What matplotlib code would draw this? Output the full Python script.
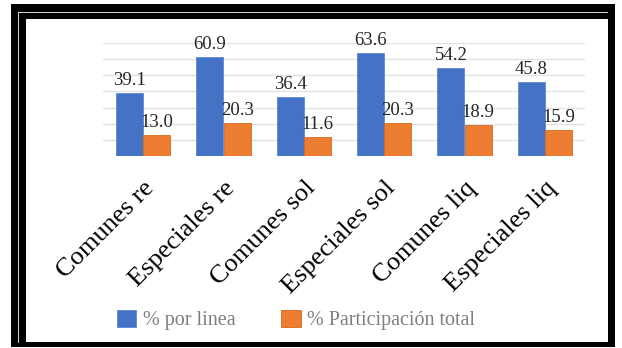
import matplotlib
matplotlib.use("Agg")
import matplotlib.pyplot as plt
import numpy as np
from matplotlib.patches import Rectangle

categories = ["Comunes re", "Especiales re", "Comunes sol", "Especiales sol", "Comunes liq", "Especiales liq"]
por_linea = [39.1, 60.9, 36.4, 63.6, 54.2, 45.8]
participacion = [13.0, 20.3, 11.6, 20.3, 18.9, 15.9]
series_names = ["% por linea", "% Participación total"]

plt.rcParams['font.family'] = ['Liberation Serif', 'DejaVu Serif']

W, H = 622, 348
fig = plt.figure(figsize=(W / 100, H / 100), dpi=100)

def px(x0, y0, x1, y1, **kw):
    return Rectangle((x0 / W, 1 - y1 / H), (x1 - x0) / W, (y1 - y0) / H,
                     transform=fig.transFigure, **kw)

# frame
fig.patches.append(px(11, 4, 615, 347, facecolor='black', edgecolor='none', zorder=-3))
fig.patches.append(px(18.3, 12.3, 608, 342.7, facecolor='#d0d0d0', edgecolor='none', zorder=-2.5))
fig.patches.append(px(19.3, 13.3, 608, 342.7, facecolor='black', edgecolor='none', zorder=-2))
fig.patches.append(px(25.5, 18.8, 607.7, 342.0, facecolor='white', edgecolor='none', zorder=-1))

ax = fig.add_axes([103 / W, 1 - 156.1 / H, 482 / W, 113.4 / H])
ax.set_zorder(2)
ax.set_facecolor('none')
x = np.arange(len(categories))
w = 0.34
b1 = ax.bar(x - w / 2, por_linea, w, color='#4472C4', edgecolor='#5b87d6', linewidth=0.6, zorder=3, label=series_names[0])
b2 = ax.bar(x + w / 2, participacion, w, color='#ED7D31', edgecolor='#d2691e', linewidth=0.6, zorder=3, label=series_names[1])

for bars, vals in ((b1, por_linea), (b2, participacion)):
    for r, v in zip(bars, vals):
        ax.annotate(f"{v:.1f}", (r.get_x() + r.get_width() / 2, v), xytext=(0, 3),
                    textcoords='offset points', ha='center', va='bottom',
                    fontsize=13.5, color='#262626', zorder=4, annotation_clip=False)

ax.set_ylim(0, 70)
ax.set_xlim(-0.5, len(categories) - 0.5)
ax.set_yticks(np.arange(10, 71, 10))
ax.yaxis.grid(True, color='#e3e3e3', linewidth=1.0, zorder=0)
ax.set_axisbelow(True)
ax.tick_params(axis='y', length=0, labelleft=False)
ax.tick_params(axis='x', length=0, pad=15)
for s in ax.spines.values():
    s.set_visible(False)
ax.set_xticks(x)
ax.set_xticklabels(categories, rotation=45, ha='right', rotation_mode='anchor',
                   fontsize=19, color='black')

leg = fig.legend(handles=[b1, b2], labels=series_names, loc='center',
                 bbox_to_anchor=(296 / W, 1 - 320 / H), ncol=2, frameon=False,
                 fontsize=14.5, handlelength=0.95, handleheight=0.95,
                 handletextpad=0.3, columnspacing=2.3)
leg.set_zorder(3)
for t in leg.get_texts():
    t.set_color('#7f7f7f')

fig.savefig('out.png', dpi=100)
